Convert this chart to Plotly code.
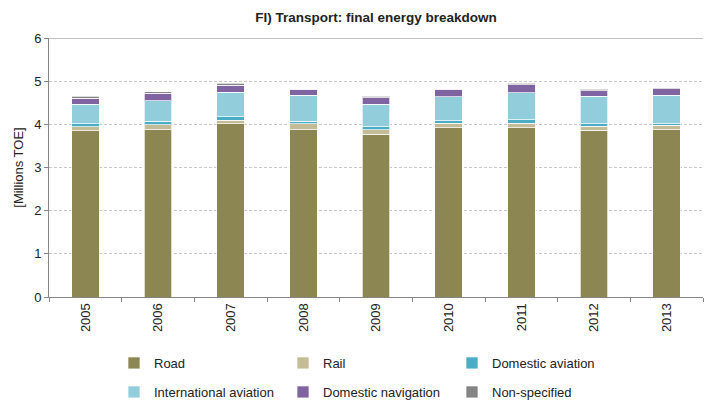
import plotly.graph_objects as go

years = ["2005", "2006", "2007", "2008", "2009", "2010", "2011", "2012", "2013"]
road = [3.85, 3.88, 4.01, 3.88, 3.77, 3.92, 3.92, 3.86, 3.88]
rail = [0.09, 0.11, 0.09, 0.13, 0.10, 0.11, 0.11, 0.09, 0.10]
dom_aviation = [0.07, 0.08, 0.08, 0.06, 0.07, 0.05, 0.08, 0.06, 0.03]
int_aviation = [0.46, 0.48, 0.56, 0.60, 0.52, 0.56, 0.62, 0.64, 0.66]
dom_navigation = [0.14, 0.17, 0.17, 0.14, 0.16, 0.17, 0.19, 0.13, 0.15]
non_specified = [0.04, 0.03, 0.04, 0.02, 0.03, 0.02, 0.03, 0.03, 0.03]

series = [
    ("Road", road, "#8C8652", "legend"),
    ("Rail", rail, "#C4BC96", "legend"),
    ("Domestic aviation", dom_aviation, "#4BACC6", "legend"),
    ("International aviation", int_aviation, "#92CDDC", "legend2"),
    ("Domestic navigation", dom_navigation, "#8064A2", "legend2"),
    ("Non-specified", non_specified, "#858585", "legend2"),
]

FONT = "Liberation Sans, Arial, sans-serif"

fig = go.Figure()
for name, vals, color, lg in series:
    fig.add_trace(go.Bar(
        x=years, y=vals, name=name, legend=lg,
        marker=dict(color=color, line=dict(color="rgba(255,255,255,0.7)", width=1)),
        width=0.38,
    ))

legend_common = dict(
    orientation="h", xanchor="left", yanchor="middle",
    xref="container", yref="container",
    entrywidth=124, entrywidthmode="pixels",
    font=dict(family=FONT, size=13, color="#222"),
    bgcolor="rgba(0,0,0,0)", itemclick=False, itemdoubleclick=False,
    traceorder="normal",
)

fig.update_layout(
    width=704, height=402,
    margin=dict(l=49, r=1, t=38, b=105, autoexpand=False),
    paper_bgcolor="white", plot_bgcolor="white",
    barmode="stack", bargap=0.62,
    font=dict(family=FONT, size=13, color="#222"),
    title=dict(text="<b>FI) Transport: final energy breakdown</b>",
               x=0.5, xref="paper", xanchor="center",
               y=1 - 17 / 402, yref="container", yanchor="middle",
               font=dict(family=FONT, size=13.5, color="#222")),
    showlegend=True,
    legend=dict(x=114 / 704, y=1 - 363 / 402, **legend_common),
    legend2=dict(x=114 / 704, y=1 - 392 / 402, **legend_common),
    xaxis=dict(
        type="category", tickangle=-90, showgrid=False,
        showline=True, linecolor="#868686", linewidth=1,
        ticks="outside", ticklen=4, tickcolor="#868686", tickson="boundaries",
        tickfont=dict(family=FONT, size=13, color="#222"),
    ),
    yaxis=dict(
        range=[0, 6], dtick=1, tick0=0,
        showline=True, linecolor="#868686", linewidth=1,
        ticks="outside", ticklen=4, tickcolor="#868686",
        showgrid=True, gridcolor="#C8C8C8", griddash="3px,2px", gridwidth=1,
        zeroline=False,
        tickfont=dict(family=FONT, size=13, color="#222"),
        title=dict(text="[Millions TOE]", standoff=7,
                   font=dict(family=FONT, size=13, color="#222")),
    ),
    shapes=[dict(type="line", xref="paper", yref="y", x0=0, x1=1, y0=6, y1=6,
                 line=dict(color="#868686", width=1))],
)

fig.write_html(
    "out.html",
    config={"displayModeBar": False},
    post_script="document.body.style.margin='0';document.body.style.overflow='hidden';",
)
